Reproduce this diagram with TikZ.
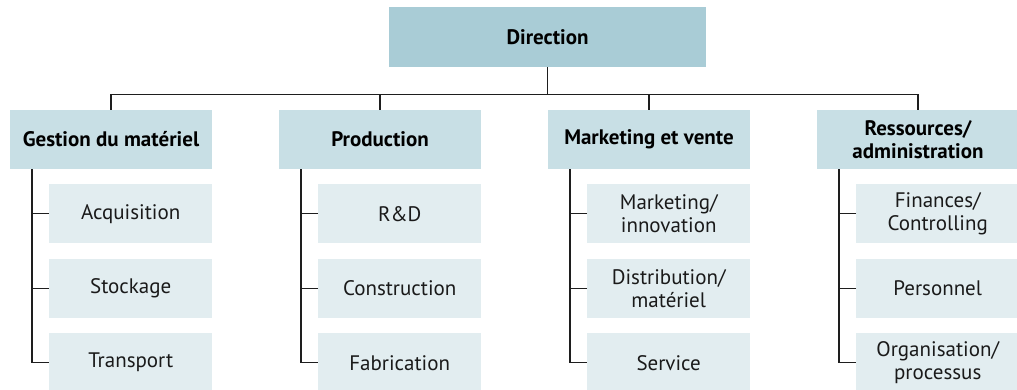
\documentclass[tikz,border=0pt]{standalone}
\usepackage{fontspec}
\setmainfont{PT Sans}
\definecolor{topc}{HTML}{A9CCD6}
\definecolor{catc}{HTML}{C8DFE5}
\definecolor{subc}{HTML}{E2EDF0}
\definecolor{linec}{HTML}{1E1E1E}
\definecolor{txtc}{HTML}{1A1A1A}
\tikzset{
  base/.style={inner sep=0pt, align=center, font=\fontsize{21}{23}\selectfont, text=txtc},
  topbox/.style={base, fill=topc, minimum width=317pt, minimum height=60pt, font=\fontsize{21}{23}\selectfont\bfseries, text=black},
  catbox/.style={base, fill=catc, minimum width=202pt, minimum height=59pt, font=\fontsize{21}{23}\selectfont\bfseries, text=black},
  subbox/.style={base, fill=subc, minimum width=163pt, minimum height=59pt, anchor=north west},
  conn/.style={draw=linec, line width=1.4pt}
}
\begin{document}
\begin{tikzpicture}[x=1pt,y=-1pt]
\useasboundingbox (0,0) rectangle (1017,389);
\clip (0,0) rectangle (1017,389);
\node[topbox] (D) at (547.5,37) {Direction};
\node[catbox] (C1) at (111,139.5) {Gestion du matériel};
\node[catbox] (C2) at (380,139.5) {Production};
\node[catbox] (C3) at (649,139.5) {Marketing et vente};
\node[catbox] (C4) at (918,139.5) {Ressources/\\administration};
% sub boxes
\node[subbox] (S11) at (49,184) {Acquisition};
\node[subbox] (S12) at (49,258.5) {Stockage};
\node[subbox] (S13) at (49,333) {Transport};
\node[subbox] (S21) at (318,184) {R\&D};
\node[subbox] (S22) at (318,258.5) {Construction};
\node[subbox] (S23) at (318,333) {Fabrication};
\node[subbox] (S31) at (587,184) {Marketing/\\innovation};
\node[subbox] (S32) at (587,258.5) {Distribution/\\matériel};
\node[subbox] (S33) at (587,333) {Service};
\node[subbox] (S41) at (856,184) {Finances/\\Controlling};
\node[subbox] (S42) at (856,258.5) {Personnel};
\node[subbox] (S43) at (856,333) {Organisation/\\processus};
% top connectors
\coordinate (H) at ([yshift=-27pt]D.south);
\draw[conn] (D.south) -- (H);
\foreach \i in {1,2,3,4}{
  \draw[conn] (H) -| (C\i.north);
}
% brackets
\foreach \i in {1,2,3,4}{
  \draw[conn] ([xshift=22pt]C\i.south west) |- (S\i3.west);
  \draw[conn] (S\i1.west) -- ++(-17,0);
  \draw[conn] (S\i2.west) -- ++(-17,0);
}
\end{tikzpicture}
\end{document}
